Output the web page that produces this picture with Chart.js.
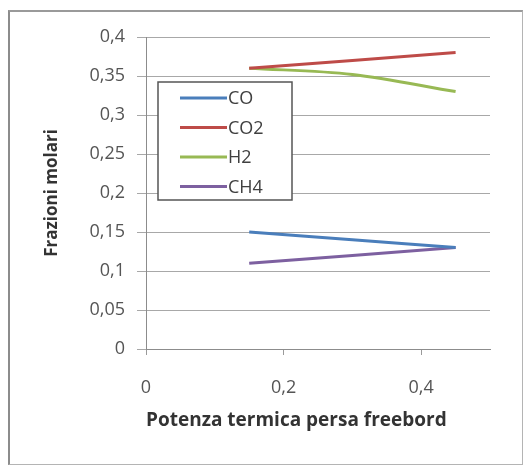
<!DOCTYPE html>
<html>
<head>
<meta charset="utf-8">
<script src="https://cdn.jsdelivr.net/npm/chart.js@4"></script>
<style>
  html, body { margin: 0; padding: 0; background: #fff; }
  #wrap { position: relative; width: 528px; height: 466px; }
  #frame { position: absolute; left: 8px; top: 10px; width: 512px; height: 452px;
           border: 1px solid #b4b4b4; border-left: 2px solid #8c8c8c; border-top: 2px solid #9a9a9a; }
  canvas { position: absolute; left: 0; top: 0; }
</style>
</head>
<body>
<div id="wrap">
  <div id="frame"></div>
  <canvas id="chart" width="528" height="466"></canvas>
</div>
<script>
const xValues = [0.15, 0.3, 0.45];
const coValues = [0.15, 0.14, 0.13];
const co2Values = [0.36, 0.37, 0.38];
const h2Values = [0.36, 0.352, 0.33];
const ch4Values = [0.11, 0.12, 0.13];

const seriesNames = ['CO', 'CO2', 'H2', 'CH4'];
const seriesColors = ['#4a7ebb', '#be4b48', '#98b954', '#7d60a0'];

const xTicks = [0, 0.2, 0.4];
const xTickLabels = ['0', '0,2', '0,4'];
const yTicks = [0, 0.05, 0.1, 0.15, 0.2, 0.25, 0.3, 0.35, 0.4];
const yTickLabels = ['0', '0,05', '0,1', '0,15', '0,2', '0,25', '0,3', '0,35', '0,4'];

const FONT = '"Open Sans", sans-serif';

function toPoints(ys) {
  return xValues.map((x, i) => ({ x: x, y: ys[i] }));
}

// legend box drawn over the plot, like the Excel one
const boxLegend = {
  id: 'boxLegend',
  afterDatasetsDraw(chart) {
    const ctx = chart.ctx;
    const x0 = 158, y0 = 82, w = 134, h = 118;
    ctx.save();
    ctx.fillStyle = '#fff';
    ctx.fillRect(x0, y0, w, h);
    ctx.strokeStyle = '#555';
    ctx.lineWidth = 1.5;
    ctx.strokeRect(x0, y0, w, h);
    ctx.font = '18px ' + FONT;
    ctx.textBaseline = 'middle';
    chart.data.datasets.forEach((ds, i) => {
      const y = y0 + 16 + i * 29.5;
      ctx.strokeStyle = ds.borderColor;
      ctx.lineWidth = 3;
      ctx.beginPath();
      ctx.moveTo(180, y);
      ctx.lineTo(227, y);
      ctx.stroke();
      ctx.fillStyle = '#404040';
      ctx.fillText(ds.label, 228, y + 1);
    });
    ctx.restore();
  }
};

new Chart(document.getElementById('chart'), {
  type: 'line',
  data: {
    datasets: [coValues, co2Values, h2Values, ch4Values].map((vals, i) => ({
      label: seriesNames[i],
      data: toPoints(vals),
      borderColor: seriesColors[i],
      backgroundColor: seriesColors[i],
      borderWidth: 3,
      pointRadius: 0,
      cubicInterpolationMode: 'monotone'
    }))
  },
  options: {
    responsive: false,
    animation: false,
    layout: { padding: { left: 0, right: 38, top: 37, bottom: 0 } },
    plugins: { legend: { display: false }, tooltip: { enabled: false } },
    scales: {
      x: {
        type: 'linear',
        min: 0,
        max: 0.5,
        afterBuildTicks: s => { s.ticks = xTicks.map(v => ({ value: v })); },
        afterFit: s => { s.height = 117; },
        border: { color: '#8c8c8c', width: 1 },
        grid: { drawOnChartArea: false, tickLength: 6, color: '#9a9a9a' },
        ticks: {
          padding: 22,
          color: '#555',
          font: { family: FONT, size: 18 },
          callback: (v, i) => xTickLabels[i]
        },
        title: {
          display: true,
          align: 'start',
          text: 'Potenza termica persa freebord',
          color: '#333',
          font: { family: FONT, size: 19, weight: 'bold' },
          padding: { top: 0, bottom: 34 }
        }
      },
      y: {
        min: 0,
        max: 0.4,
        afterBuildTicks: s => { s.ticks = yTicks.map(v => ({ value: v })); },
        afterFit: s => { s.width = 146; },
        border: { color: '#8c8c8c', width: 1 },
        grid: { color: '#a8a8a8', tickLength: 9 },
        ticks: {
          padding: 12,
          color: '#555',
          font: { family: FONT, size: 18 },
          callback: (v, i) => yTickLabels[i]
        },
        title: {
          display: true,
          text: 'Frazioni molari',
          color: '#333',
          font: { family: FONT, size: 17, weight: 'bold' },
          padding: { top: 42, bottom: 0 }
        }
      }
    }
  },
  plugins: [boxLegend]
});
</script>
</body>
</html>
